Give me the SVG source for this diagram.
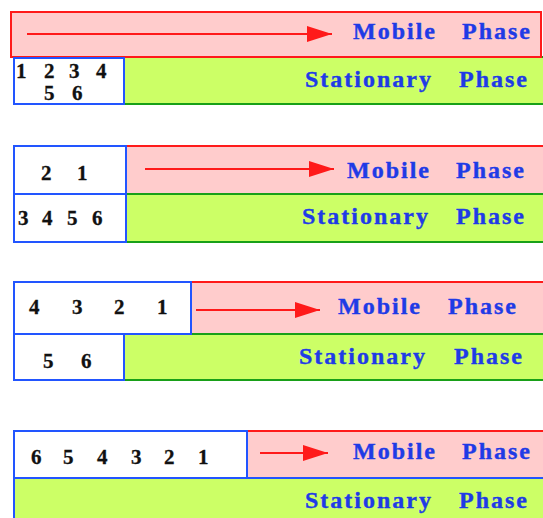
<svg xmlns="http://www.w3.org/2000/svg" width="543" height="518" viewBox="0 0 543 518">
<defs>
<style>
.mob{fill:#ffcccc;stroke:#ff1a1a;stroke-width:2}
.sta{fill:#ccff66;stroke:#18a018;stroke-width:2}
.box{fill:#ffffff;stroke:#2255ff;stroke-width:2}
.lbl{font-family:"Liberation Serif","Times New Roman",serif;font-weight:bold;font-size:24px;letter-spacing:2px;fill:#1f3be6;stroke:#1f3be6;stroke-width:0.4}
.num{font-family:"Liberation Serif","Times New Roman",serif;font-weight:bold;font-size:21px;fill:#111111;stroke:#111111;stroke-width:0.3}
.arr{stroke:#ff1a1a;stroke-width:2;fill:none;marker-end:url(#ah)}
</style>
<marker id="ah" markerUnits="userSpaceOnUse" markerWidth="26" markerHeight="16" refX="25" refY="8" orient="auto">
<path d="M0,0 L25,8 L0,16 Z" fill="#ff1a1a"/>
</marker>
</defs>

<g id="panel1">
<rect class="sta" x="124" y="57" width="430" height="47"/>
<rect class="mob" x="11" y="12" width="530" height="45"/>
<rect class="box" x="14" y="58" width="110" height="46"/>
<text class="lbl" x="353" y="39">Mobile</text>
<text class="lbl" x="462" y="39">Phase</text>
<text class="lbl" x="305" y="87">Stationary</text>
<text class="lbl" x="459" y="87">Phase</text>
<text class="num" y="78"><tspan x="16">1</tspan><tspan x="44">2</tspan><tspan x="69">3</tspan><tspan x="96">4</tspan></text>
<text class="num" y="100"><tspan x="44">5</tspan><tspan x="72">6</tspan></text>
</g>

<g id="panel2">
<rect class="mob" x="126" y="146" width="430" height="48"/>
<rect class="sta" x="126" y="194" width="430" height="48"/>
<rect class="box" x="14" y="146" width="112" height="48"/>
<rect class="box" x="14" y="194" width="112" height="48"/>
<text class="lbl" x="347" y="178">Mobile</text>
<text class="lbl" x="456" y="178">Phase</text>
<text class="lbl" x="302" y="224">Stationary</text>
<text class="lbl" x="456" y="224">Phase</text>
<text class="num" y="180"><tspan x="41">2</tspan><tspan x="77">1</tspan></text>
<text class="num" y="225"><tspan x="18">3</tspan><tspan x="42">4</tspan><tspan x="67">5</tspan><tspan x="92">6</tspan></text>
</g>

<g id="panel3">
<rect class="mob" x="191" y="282" width="365" height="52"/>
<rect class="sta" x="124" y="334" width="432" height="46"/>
<rect class="box" x="14" y="282" width="177" height="52"/>
<rect class="box" x="14" y="334" width="110" height="46"/>
<text class="lbl" x="338" y="314">Mobile</text>
<text class="lbl" x="448" y="314">Phase</text>
<text class="lbl" x="299" y="364">Stationary</text>
<text class="lbl" x="454" y="364">Phase</text>
<text class="num" y="314"><tspan x="29">4</tspan><tspan x="72">3</tspan><tspan x="114">2</tspan><tspan x="157">1</tspan></text>
<text class="num" y="368"><tspan x="43">5</tspan><tspan x="81">6</tspan></text>
</g>

<g id="panel4">
<rect class="mob" x="247" y="431" width="310" height="47"/>
<rect x="14" y="478" width="545" height="50" fill="#ccff66" stroke="#2255ff" stroke-width="2"/>
<rect class="box" x="14" y="431" width="233" height="47"/>
<text class="lbl" x="353" y="459">Mobile</text>
<text class="lbl" x="462" y="459">Phase</text>
<text class="lbl" x="305" y="508">Stationary</text>
<text class="lbl" x="459" y="508">Phase</text>
<text class="num" y="464"><tspan x="31">6</tspan><tspan x="63">5</tspan><tspan x="97">4</tspan><tspan x="131">3</tspan><tspan x="164">2</tspan><tspan x="198">1</tspan></text>
</g>

<g id="connectors">
<line class="arr" x1="27" y1="34" x2="332" y2="34"/>
<line class="arr" x1="145" y1="169" x2="334" y2="169"/>
<line class="arr" x1="196" y1="310" x2="320" y2="310"/>
<line class="arr" x1="260" y1="453" x2="328" y2="453"/>
</g>
</svg>
